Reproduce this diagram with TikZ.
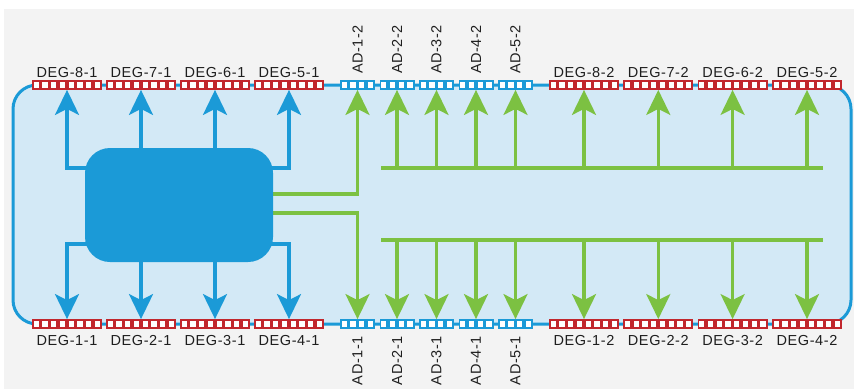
\documentclass[tikz,border=0pt]{standalone}
\usepackage{fontspec}
\newfontfamily\lblfont{Liberation Sans}[LetterSpace=4]
\usetikzlibrary{arrows.meta,calc}

\definecolor{bgray}{HTML}{F3F3F3}
\definecolor{netblue}{HTML}{1B9AD7}
\definecolor{paleblue}{HTML}{D3E9F6}
\definecolor{linkgreen}{HTML}{7CC142}
\definecolor{degred}{HTML}{C1272D}
\definecolor{inkgray}{HTML}{1E1E1E}

\pgfdeclarelayer{frame}
\pgfdeclarelayer{wires}
\pgfsetlayers{frame,wires,main}

\tikzset{
  stripbase/.style={rectangle, inner sep=0pt, minimum height=9.4pt},
  degstrip/.style={stripbase, fill=degred, minimum width=70pt},
  adstrip/.style={stripbase, fill=netblue, minimum width=35pt},
  lbl/.style={font=\lblfont\fontsize{14.5}{15}\selectfont, text=inkgray, inner sep=0pt},
  bighead/.style={-{Stealth[length=25pt,width=24pt,inset=6pt]}},
  bluearrow/.style={draw=netblue, line width=3.2pt, bighead},
  greenarrow/.style={draw=linkgreen, line width=3.2pt, bighead},
  greenbus/.style={draw=linkgreen, line width=3.2pt},
  ctrlbox/.style={fill=netblue, rounded corners=25pt, minimum width=188pt,
    minimum height=114pt, inner sep=0pt},
}

% white port cells inside a strip node: #1 node name, #2 number of cells
\newcommand{\stripcells}[2]{%
  \foreach \k in {1,...,#2}{%
    \fill[white] ($(#1.west)+({8.75*\k-6.975},-2.7)$) rectangle ++(5.2,5.4);
  }}

\begin{document}
\begin{tikzpicture}[x=1pt,y=-1pt]
\useasboundingbox (0,0) rectangle (854,389);

\begin{pgfonlayer}{frame}
  \fill[white] (0,0) rectangle (854,389);
  \fill[bgray] (4,9) rectangle (854,389);
  \draw[netblue, line width=3pt, fill=paleblue, rounded corners=24pt]
    (13,85) rectangle (851,324);
\end{pgfonlayer}

% central switching block
\node[ctrlbox] (ctrl) at (179,205) {};

% top degree strips
\foreach \x/\n/\t in {67/d81/DEG-8-1, 141/d71/DEG-7-1, 215/d61/DEG-6-1, 289/d51/DEG-5-1,
                      584/d82/DEG-8-2, 658.3/d72/DEG-7-2, 732.6/d62/DEG-6-2, 807/d52/DEG-5-2}{
  \node[degstrip] (\n) at (\x,85) {};
  \stripcells{\n}{8}
  \node[lbl, anchor=base] (\n-lbl) at (\x,77) {\t};
}
% bottom degree strips
\foreach \x/\n/\t in {67/d11/DEG-1-1, 141/d21/DEG-2-1, 215/d31/DEG-3-1, 289/d41/DEG-4-1,
                      584/d12/DEG-1-2, 658.3/d22/DEG-2-2, 732.6/d32/DEG-3-2, 807/d42/DEG-4-2}{
  \node[degstrip] (\n) at (\x,324) {};
  \stripcells{\n}{8}
  \node[lbl, anchor=base] (\n-lbl) at (\x,345.5) {\t};
}
% add/drop strips, top and bottom
\foreach \x/\i in {357.5/1, 397/2, 436.5/3, 476/4, 515.5/5}{
  \node[adstrip] (a\i2) at (\x,85) {};
  \stripcells{a\i2}{4}
  \node[lbl, rotate=90, anchor=west] (a\i2-lbl) at (\x,74) {AD-\i-2};
  \node[adstrip] (a\i1) at (\x,324) {};
  \stripcells{a\i1}{4}
  \node[lbl, rotate=90, anchor=east] (a\i1-lbl) at (\x,336) {AD-\i-1};
}

\begin{pgfonlayer}{wires}
  % blue links from the block to the side-1 degrees
  \draw[bluearrow] (ctrl.center |- 0,168) -| (d81.south);
  \draw[bluearrow] (ctrl.north -| d71.south) -- (d71.south);
  \draw[bluearrow] (ctrl.north -| d61.south) -- (d61.south);
  \draw[bluearrow] (ctrl.center |- 0,168) -| (d51.south);
  \draw[bluearrow] (ctrl.center |- 0,244) -| (d11.north);
  \draw[bluearrow] (ctrl.south -| d21.north) -- (d21.north);
  \draw[bluearrow] (ctrl.south -| d31.north) -- (d31.north);
  \draw[bluearrow] (ctrl.center |- 0,244) -| (d41.north);

  % green links to the first add/drop pair
  \draw[greenarrow] (ctrl.center |- 0,194) -| (a12.south);
  \draw[greenarrow] (ctrl.center |- 0,213) -| (a11.north);

  % green distribution busses
  \coordinate (busT) at (381,168);
  \coordinate (busTe) at (823,168);
  \coordinate (busB) at (381,240);
  \coordinate (busBe) at (823,240);
  \draw[greenbus] (busT) -- (busTe);
  \draw[greenbus] (busB) -- (busBe);
  \foreach \n in {a22,a32,a42,a52,d82,d72,d62,d52}{
    \draw[greenarrow] (busT -| \n.south) -- (\n.south);
  }
  \foreach \n in {a21,a31,a41,a51,d12,d22,d32,d42}{
    \draw[greenarrow] (busB -| \n.north) -- (\n.north);
  }
\end{pgfonlayer}
\end{tikzpicture}
\end{document}
